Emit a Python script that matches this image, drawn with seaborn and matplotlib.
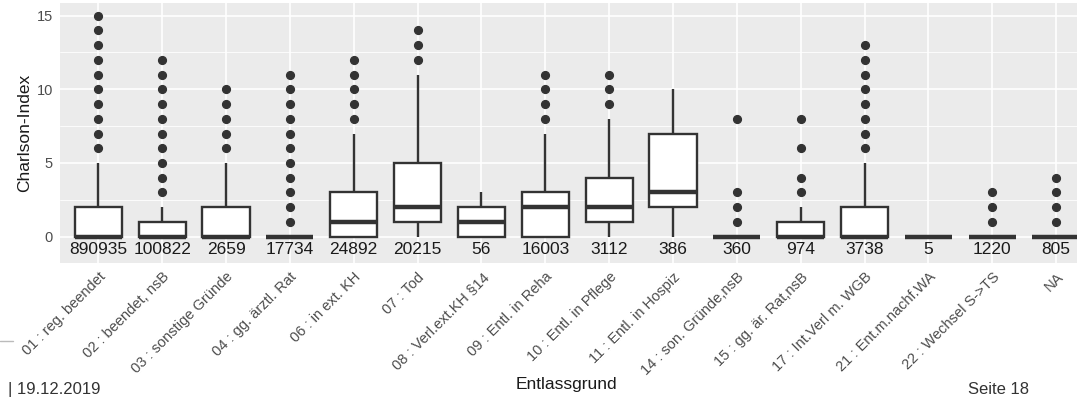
import pandas as pd
import matplotlib.pyplot as plt
import seaborn as sns
from matplotlib.ticker import MultipleLocator, FixedLocator
from matplotlib.lines import Line2D

sns.set_theme(style="darkgrid")
plt.rcParams['font.family'] = ['Liberation Sans', 'DejaVu Sans']

# Entlassgruende und Fallzahlen
grund = ["01 : reg. beendet", "02 : beendet, nsB", "03 : sonstige Gründe",
         "04 : gg. ärztl. Rat", "06 : in ext. KH", "07 : Tod",
         "08 : Verl.ext.KH §14", "09 : Entl. in Reha", "10 : Entl. in Pflege",
         "11 : Entl. in Hospiz", "14 : son. Gründe,nsB", "15 : gg. är. Rat,nsB",
         "17 : Int.Verl m. WGB", "21 : Ent.m.nachf.WA", "22 : Wechsel S->TS", "NA"]
n_faelle = [890935, 100822, 2659, 17734, 24892, 20215, 56, 16003,
            3112, 386, 360, 974, 3738, 5, 1220, 805]

# Kennzahlen der Boxplots
wh_lo = [0, 0, 0, 0, 0, 0, 0, 0, 0, 0, 0, 0, 0, 0, 0, 0]
q1    = [0, 0, 0, 0, 0, 1, 0, 0, 1, 2, 0, 0, 0, 0, 0, 0]
med   = [0, 0, 0, 0, 1, 2, 1, 2, 2, 3, 0, 0, 0, 0, 0, 0]
q3    = [2, 1, 2, 0, 3, 5, 2, 3, 4, 7, 0, 1, 2, 0, 0, 0]
wh_hi = [5, 2, 5, 0, 7, 11, 3, 7, 8, 10, 0, 2, 5, 0, 0, 0]
ausreisser = [
    [6, 7, 8, 9, 10, 11, 12, 13, 14, 15],
    [3, 4, 5, 6, 7, 8, 9, 10, 11, 12],
    [6, 7, 8, 9, 10],
    [1, 2, 3, 4, 5, 6, 7, 8, 9, 10, 11],
    [8, 9, 10, 11, 12],
    [12, 13, 14],
    [],
    [8, 9, 10, 11],
    [9, 10, 11],
    [],
    [1, 2, 3, 8],
    [3, 4, 6, 8],
    [6, 7, 8, 9, 10, 11, 12, 13],
    [],
    [1, 2, 3],
    [1, 2, 3, 4],
]

# Stichprobe je Gruppe, die genau diese Kennzahlen ergibt
m = 20
rows = []
for i, g in enumerate(grund):
    vals = ([wh_lo[i]] * m + [q1[i]] * 2 * m + [med[i]] * m +
            [q3[i]] * 2 * m + [wh_hi[i]] * m + ausreisser[i])
    rows += [(g, v) for v in vals]
df = pd.DataFrame(rows, columns=["Entlassgrund", "Charlson"])

fig = plt.figure(figsize=(10.77, 3.97), dpi=100)
fig.patch.set_facecolor("white")
W, H = 1077, 397
ax = fig.add_axes([60 / W, 1 - 263 / H, 1034.4 / W, 260 / H])
ax.set_facecolor("#EBEBEB")

sns.boxplot(data=df, x="Entlassgrund", y="Charlson", order=grund, ax=ax,
            color="white", linecolor="#333333", linewidth=1.7, width=0.74,
            showcaps=False, whis=1.5, fliersize=5.6,
            flierprops=dict(marker="o", markerfacecolor="#333333",
                            markeredgecolor="#333333"),
            medianprops=dict(linewidth=3.2, color="#333333"))

for i, n in enumerate(n_faelle):
    ax.text(i, -0.9, str(n), ha="center", va="center", fontsize=12.5,
            color="#1A1A1A")

ax.set_xlim(-0.6, len(grund) - 0.4)
ax.set_ylim(-1.79, 15.86)
ax.yaxis.set_major_locator(FixedLocator([0, 5, 10, 15]))
ax.yaxis.set_minor_locator(MultipleLocator(2.5))
ax.grid(which="major", color="white", linewidth=1.2)
ax.grid(which="minor", axis="y", color="white", linewidth=0.6)
ax.set_axisbelow(True)
for s in ax.spines.values():
    s.set_visible(False)

ax.tick_params(axis="both", which="major", length=3, width=1.3, color="#333333",
               labelcolor="#4D4D4D", labelsize=10.5, pad=2)
ax.tick_params(axis="y", which="minor", length=0)
ax.set_xticks(range(len(grund)))
ax.set_xticklabels(grund, rotation=45, ha="right", va="top",
                   rotation_mode="anchor")
ax.set_xlabel("")
ax.set_ylabel("Charlson-Index", fontsize=12.5, color="#1A1A1A", labelpad=3)

fig.text(566 / W, 1 - 385 / H, "Entlassgrund", ha="center", va="center",
         fontsize=12.5, color="#1A1A1A")

# Fusszeile der Folie
fig.text(8 / W, 0.0, "| 19.12.2019", ha="left", va="bottom",
         fontsize=12, color="#333333")
fig.text(968 / W, 0.0, "Seite 18", ha="left", va="bottom",
         fontsize=12, color="#333333")
fig.add_artist(Line2D([0, 13 / W], [1 - 341 / H, 1 - 341 / H],
                      color="#BBBBBB", linewidth=1))

fig.savefig("out.png", dpi=100)
